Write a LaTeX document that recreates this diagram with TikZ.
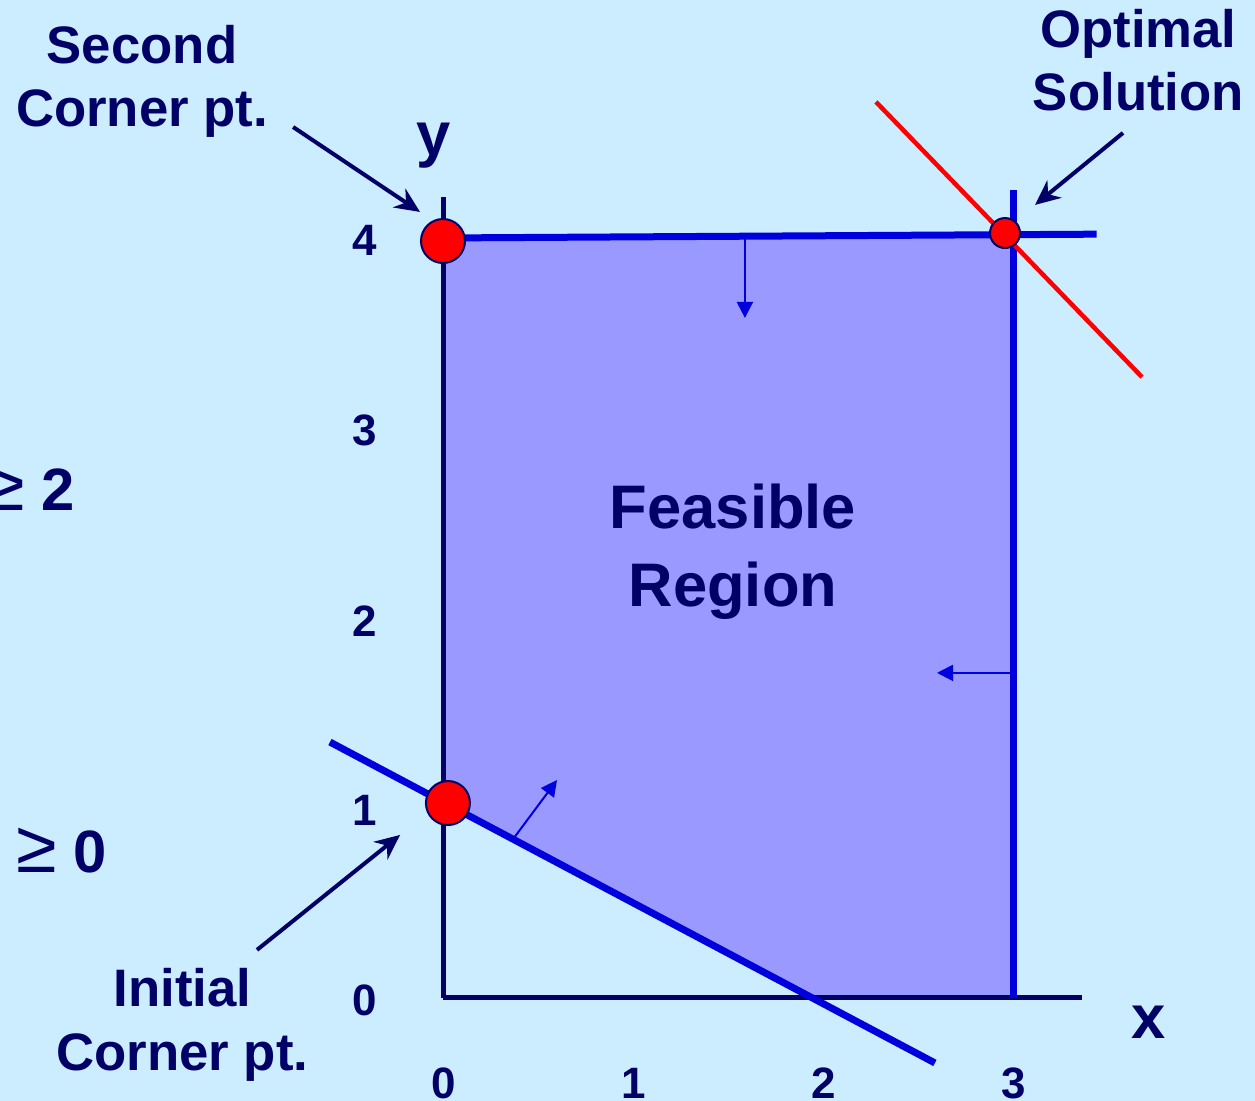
\documentclass[tikz,border=0pt]{standalone}
\usepackage{fontspec}
\setmainfont{Liberation Sans}
\usetikzlibrary{arrows.meta, positioning, calc}
\definecolor{cBack}{RGB}{204,236,255}
\definecolor{cNavy}{RGB}{0,0,102}
\definecolor{cLine}{RGB}{0,0,221}
\definecolor{cRegion}{RGB}{153,153,255}
\tikzset{
	axis/.style     ={line width=1mm, draw=cNavy},
	constr/.style   ={line width=1.4mm, draw=cLine},
	objline/.style  ={line width=0.9mm, draw=red},
	corner/.style   ={circle, draw=cNavy, line width=0.4mm, fill=red, minimum size=8.8mm, inner sep=0pt},
	bigtext/.style  ={font=\fontsize{30}{36}\selectfont\bfseries, text=cNavy, align=center},
	regtext/.style  ={font=\fontsize{35}{44}\selectfont\bfseries, text=cNavy, align=center},
	tick/.style     ={font=\fontsize{25}{30}\selectfont\bfseries, text=cNavy},
	axislabel/.style={font=\fontsize{35}{40}\selectfont\bfseries, text=cNavy},
	cutoff/.style   ={font=\fontsize{34}{40}\selectfont\bfseries, text=cNavy, inner sep=0pt, anchor=base east},
	pointer/.style  ={-{Stealth[length=5mm, width=4.5mm]}, line width=0.8mm, draw=cNavy},
	dirarrow/.style ={-{Triangle[length=3.2mm, width=3.2mm]}, line width=0.4mm, draw=cLine},
}
\newcommand{\bigge}{{\fontsize{42}{40}\selectfont\mdseries ≥}}
\begin{document}
\begin{tikzpicture}[x=3.8cm, y=3.8cm]
	\fill[cBack] (-2.3316,-0.5421) rectangle (4.2737,5.2526);
	\useasboundingbox (-2.3316,-0.5421) rectangle (4.2737,5.2526);
	% feasible region and constraint lines
	\fill[cRegion] (0,1.03) -- (0,4) -- (3,4) -- (3,0) -- (1.944,0) -- cycle;
	\draw[axis] (0,0) -- (0,4.216);
	\draw[axis] (0,0) -- (3.363,0);
	\draw[constr] (0,4) -- (3.44,4.02);
	\draw[constr] (3,0) -- (3,4.25);
	\draw[constr] (-0.595,1.347) -- (2.589,-0.342);
	\draw[objline] (2.279,4.716) -- (3.679,3.268);
	\draw[dirarrow] (1.589,4) -- (1.589,3.579);
	\draw[dirarrow] (2.984,1.711) -- (2.6,1.711);
	\draw[dirarrow] (0.368,0.835) -- (0.6,1.147);
	% ticks and axis names
	\foreach \k in {0,...,4}
		\node[tick] (yt\k) at (-0.41,\k-0.015) {\k};
	\foreach \k in {0,...,3}
		\node[tick] (xt\k) at (\k+0.005,-0.447) {\k};
	\node[axislabel] (ylab) at (-0.05,4.485) {y};
	\node[axislabel] (xlab) at (3.715,-0.13) {x};
	% corner points
	\node[corner] (initial) at (0.026,1.026) {};
	\node[corner] (second) at (0,3.984) {};
	\node[corner, minimum size=6mm] (optimal) at (2.958,4.026) {};
	\node[bigtext] (secondlab) at (-1.584,4.826) {Second\\Corner pt.};
	\node[bigtext] (optimallab) at (3.66,4.935) {Optimal\\Solution};
	\node[bigtext] (initiallab) at (-1.372,-0.142) {Initial\\Corner pt.};
	\node[regtext] (feasible) at (1.526,2.348) {Feasible\\Region};
	\node[cutoff] (geq2) at (-1.937,2.568) {\bigge\ 2};
	\node[cutoff] (geq0) at (-1.768,0.663) {\bigge\ 0};
	\coordinate (secondtail) at (-0.789,4.584);
	\coordinate (secondtip) at (-0.121,4.137);
	\coordinate (optimaltail) at (3.579,4.553);
	\coordinate (optimaltip) at (3.116,4.174);
	\coordinate (initialtail) at (-0.979,0.253);
	\coordinate (initialtip) at (-0.226,0.858);
	\draw[pointer] (secondtail) -- (secondtip);
	\draw[pointer] (optimaltail) -- (optimaltip);
	\draw[pointer] (initialtail) -- (initialtip);
\end{tikzpicture}
\end{document}
